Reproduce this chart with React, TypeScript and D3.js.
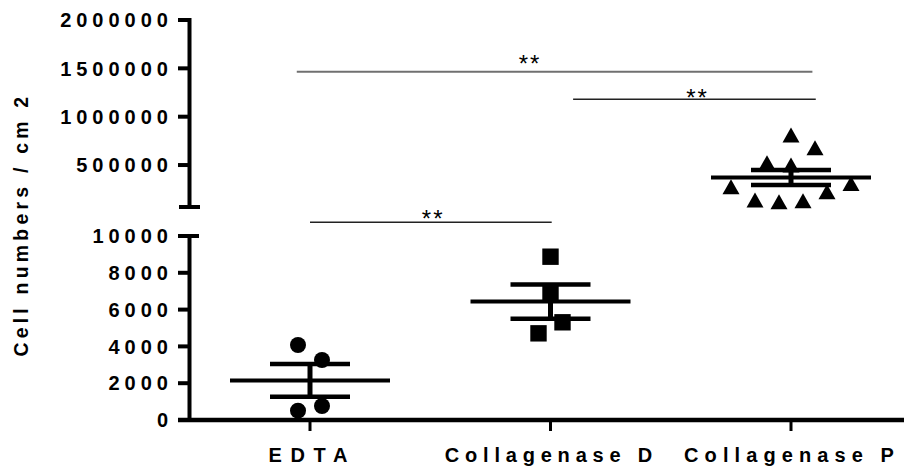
import React from "react";
import * as d3 from "d3";

// ---------- data ----------
const categories = ["EDTA", "Collagenase D", "Collagenase P"];
const edtaValues = [4076, 3260, 508, 760];
const edtaSlots = [-1, 1, -1, 1];
const collDValues = [8875, 6848, 5310, 4710];
const collDSlots = [0, 0, 1, -1];
const collPValues = [810300, 679000, 523700, 500000, 275400, 310000, 137800, 120000, 130000, 224000];
const collPSlots = [0, 2, -2, 0, -5, 5, -3, -1, 1, 3];
const upperTicks = [500000, 1000000, 1500000, 2000000];
const lowerTicks = [0, 2000, 4000, 6000, 8000, 10000];
const upperDomain = [66000, 2000000];
const lowerDomain = [0, 10000];
const yLabel = "Cell numbers / cm 2";
// significance brackets: from/to in category-index units, value on its axis segment
const sigFrom = [-0.055, 1.094, 0];
const sigTo = [2.089, 2.103, 1.005];
const sigValue = [1465300, 1179900, 10745];
const sigSegment = ["upper", "upper", "lower"];
const sigText = ["**", "**", "**"];
const sigTextPos = [0.911, 1.607, 0.508];

// ---------- layout / style ----------
const W = 904;
const H = 468;
const axisX = 189.5;
const FONT = "'Liberation Sans', Arial, Helvetica, sans-serif";

const xIdx = d3.scaleLinear().domain([0, 2]).range([310, 791]);
const yUpper = d3.scaleLinear().domain(upperDomain).range([207, 20]);
const yLower = d3.scaleLinear().domain(lowerDomain).range([420, 236]);
const slotW = 12;

const groups = [
  { values: edtaValues, slots: edtaSlots, seg: "lower", shape: "circle" },
  { values: collDValues, slots: collDSlots, seg: "lower", shape: "square" },
  { values: collPValues, slots: collPSlots, seg: "upper", shape: "triangle" },
];

const xLabelSpacing: Record<string, number> = { EDTA: 8.6, "Collagenase D": 5.8, "Collagenase P": 6.1 };
const sigLift = [13.7, 7.6, 9.3];

function marker(shape: string, cx: number, cy: number, key: string) {
  if (shape === "circle") return <circle key={key} cx={cx} cy={cy} r={8} fill="#000" />;
  if (shape === "square") return <rect key={key} x={cx - 8.2} y={cy - 8.2} width={16.4} height={16.4} fill="#000" />;
  const w = 17, h = 15;
  const p = d3.path();
  p.moveTo(cx, cy - h / 2);
  p.lineTo(cx + w / 2, cy + h / 2);
  p.lineTo(cx - w / 2, cy + h / 2);
  p.closePath();
  return <path key={key} d={p.toString()} fill="#000" />;
}

export default function App() {
  const tickLS = 5;
  const tickFS = 20;
  return (
    <svg width={W} height={H} style={{ position: "absolute", left: 0, top: 0, background: "#fff" }}>
      <rect x={0} y={0} width={W} height={H} fill="#fff" />
      {/* upper y-axis segment */}
      <line x1={axisX} x2={axisX} y1={yUpper(2000000) - 2} y2={yUpper(upperDomain[0])} stroke="#000" strokeWidth={4} />
      <line x1={179} x2={200} y1={yUpper(upperDomain[0])} y2={yUpper(upperDomain[0])} stroke="#000" strokeWidth={4} />
      {upperTicks.map((t) => (
        <g key={"ut" + t}>
          <line x1={178} x2={axisX} y1={yUpper(t)} y2={yUpper(t)} stroke="#000" strokeWidth={4} />
          <text x={168 + tickLS} y={yUpper(t)} dy="0.36em" textAnchor="end" fontFamily={FONT} fontWeight="bold" fontSize={tickFS} letterSpacing={tickLS}>
            {t}
          </text>
        </g>
      ))}
      {/* lower y-axis segment */}
      <line x1={axisX} x2={axisX} y1={yLower(10000)} y2={yLower(0)} stroke="#000" strokeWidth={4} />
      <line x1={178} x2={199} y1={yLower(10000)} y2={yLower(10000)} stroke="#000" strokeWidth={4} />
      {lowerTicks.map((t) => (
        <g key={"lt" + t}>
          <line x1={178} x2={axisX} y1={yLower(t)} y2={yLower(t)} stroke="#000" strokeWidth={4} />
          <text x={168 + tickLS} y={yLower(t)} dy="0.36em" textAnchor="end" fontFamily={FONT} fontWeight="bold" fontSize={tickFS} letterSpacing={tickLS}>
            {t}
          </text>
        </g>
      ))}
      {/* x axis */}
      <line x1={178} x2={W} y1={yLower(0)} y2={yLower(0)} stroke="#000" strokeWidth={4.5} />
      {categories.map((c, i) => (
        <g key={"xc" + c}>
          <line x1={xIdx(i)} x2={xIdx(i)} y1={yLower(0)} y2={yLower(0) + 11} stroke="#000" strokeWidth={3} />
          <text x={xIdx(i) - 2 + xLabelSpacing[c] / 2} y={461.7} textAnchor="middle" fontFamily={FONT} fontWeight="bold" fontSize={20} letterSpacing={xLabelSpacing[c]}>
            {c}
          </text>
        </g>
      ))}
      {/* y label */}
      <text transform={`translate(27.5,${222.5 + 2.1}) rotate(-90)`} textAnchor="middle" fontFamily={FONT} fontWeight="bold" fontSize={19.5} letterSpacing={4.2}>
        {yLabel}
      </text>
      {/* points and mean ± SEM */}
      {groups.map((g, gi) => {
        const ys = g.seg === "upper" ? yUpper : yLower;
        const cx = xIdx(gi);
        const mean = d3.mean(g.values) as number;
        const sem = (d3.deviation(g.values) as number) / Math.sqrt(g.values.length);
        return (
          <g key={"g" + gi}>
            {g.values.map((v, k) => marker(g.shape, cx + g.slots[k] * slotW, ys(v), `m${gi}-${k}`))}
            <line x1={cx - 80} x2={cx + 80} y1={ys(mean)} y2={ys(mean)} stroke="#000" strokeWidth={4} />
            <line x1={cx} x2={cx} y1={ys(mean + sem)} y2={ys(mean - sem)} stroke="#000" strokeWidth={5} />
            <line x1={cx - 40} x2={cx + 40} y1={ys(mean + sem)} y2={ys(mean + sem)} stroke="#000" strokeWidth={4.5} />
            <line x1={cx - 40} x2={cx + 40} y1={ys(mean - sem)} y2={ys(mean - sem)} stroke="#000" strokeWidth={4.5} />
          </g>
        );
      })}
      {/* significance */}
      {sigValue.map((v, i) => {
        const ys = sigSegment[i] === "upper" ? yUpper : yLower;
        const y = ys(v);
        return (
          <g key={"s" + i}>
            <line x1={xIdx(sigFrom[i])} x2={xIdx(sigTo[i])} y1={y} y2={y} stroke={i === 0 ? "#707070" : "#222"} strokeWidth={i === 0 ? 2 : 1.6} />
            <text x={xIdx(sigTextPos[i]) + 1} y={y - sigLift[i] + 14} textAnchor="middle" fontFamily={FONT} fontSize={24} letterSpacing={2}>
              {sigText[i]}
            </text>
          </g>
        );
      })}
    </svg>
  );
}
